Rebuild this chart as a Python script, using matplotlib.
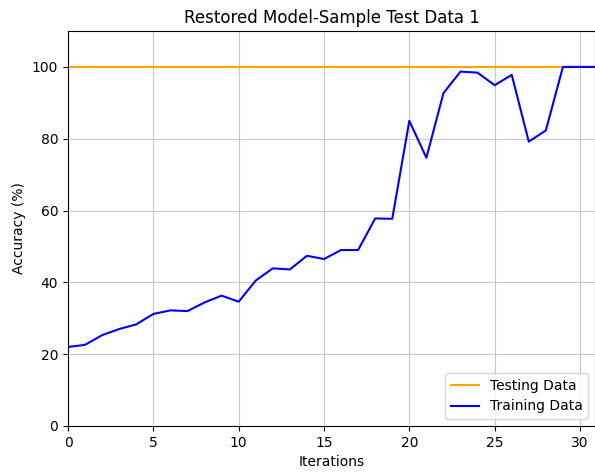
import matplotlib
matplotlib.use("Agg")
import matplotlib.pyplot as plt

# ── data ──────────────────────────────────────────────────────────────────────
iterations = list(range(32))
training_acc = [22.0, 22.6, 25.3, 27.0, 28.3, 31.2, 32.2, 32.0, 34.4, 36.3,
                34.6, 40.5, 43.9, 43.6, 47.4, 46.5, 49.0, 49.0, 57.8, 57.7,
                85.0, 74.7, 92.7, 98.7, 98.4, 94.9, 97.8, 79.2, 82.3, 100.0,
                100.0, 100.0]
testing_acc = [100.0] * len(iterations)

# ── figure ────────────────────────────────────────────────────────────────────
fig = plt.figure(figsize=(5.95, 4.75), dpi=100)
ax = fig.add_axes([0.1143, 0.1032, 0.8857, 0.8315])

ax.plot(iterations, testing_acc, color="orange", label="Testing Data")
ax.plot(iterations, training_acc, color="blue", label="Training Data")

ax.set_xlim(0, 30.88)
ax.set_ylim(0, 110)
ax.set_xticks([0, 5, 10, 15, 20, 25, 30])
ax.set_yticks([0, 20, 40, 60, 80, 100])
ax.grid(True, color="#c8c8c8")
ax.set_xlabel("Iterations")
ax.set_ylabel("Accuracy (%)")
ax.set_title("Restored Model-Sample Test Data 1")
ax.legend(loc="lower right")

fig.savefig("out.png", dpi=100)
